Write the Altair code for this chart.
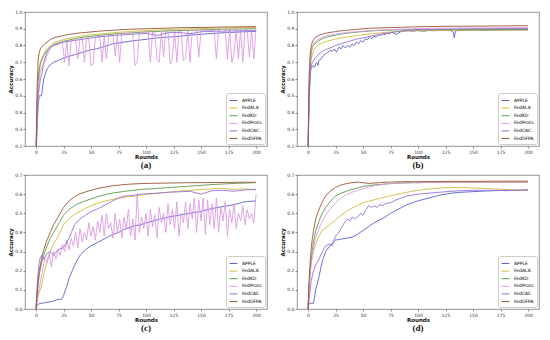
import altair as alt
import pandas as pd

SERIES = ["APPLE", "FedALA", "FedKD", "FedProto", "FedCAC", "FedDFPA"]
COLORS = ["#5a62cf", "#d2b93c", "#5c9a48", "#dd9be3", "#9b72d6", "#9c5536"]
X_TICKS = [0, 25, 50, 75, 100, 125, 150, 175, 200]
Y_TICKS_AB = [0.2, 0.3, 0.4, 0.5, 0.6, 0.7, 0.8, 0.9, 1.0]
Y_TICKS_CD = [0.0, 0.1, 0.2, 0.3, 0.4, 0.5, 0.6, 0.7]

# shared round grid for the smooth curves
R = [0, 1, 2, 3, 4, 5, 7, 10, 13, 16, 20, 25, 30, 35, 40, 45, 50, 55, 60, 65, 70,
     75, 80, 85, 90, 95, 100, 110, 120, 130, 140, 150, 160, 170, 180, 190, 200]
R2 = list(range(0, 201, 2))

# ---------------- panel (a) ----------------
A_APPLE = [0.15, 0.3, 0.45, 0.5, 0.5, 0.5, 0.6, 0.66, 0.685, 0.7, 0.71,
           0.725, 0.735, 0.745, 0.755, 0.765, 0.775, 0.78, 0.79, 0.8, 0.81, 0.815, 0.82,
           0.825, 0.83, 0.833, 0.837, 0.845, 0.85, 0.855, 0.862, 0.867, 0.872, 0.876, 0.879, 0.882, 0.884]
A_ALA = [0.15, 0.45, 0.6, 0.67, 0.7, 0.72, 0.75, 0.78, 0.8, 0.815, 0.825,
         0.835, 0.843, 0.85, 0.855, 0.86, 0.864, 0.867, 0.87, 0.873, 0.876, 0.879, 0.881,
         0.883, 0.885, 0.887, 0.889, 0.892, 0.895, 0.897, 0.899, 0.901, 0.903, 0.905, 0.906, 0.907, 0.908]
A_KD = [0.15, 0.43, 0.58, 0.65, 0.69, 0.71, 0.74, 0.77, 0.79, 0.805, 0.815,
        0.825, 0.833, 0.84, 0.846, 0.851, 0.855, 0.859, 0.862, 0.865, 0.868, 0.871, 0.873,
        0.875, 0.877, 0.879, 0.881, 0.884, 0.887, 0.889, 0.891, 0.893, 0.895, 0.897, 0.898, 0.899, 0.9]
A_PROTO = [0.15, 0.55, 0.65, 0.68, 0.7, 0.74, 0.77, 0.79, 0.8, 0.805,
           0.81, 0.815, 0.82, 0.7, 0.825, 0.68, 0.83, 0.83, 0.835, 0.72,
           0.84, 0.84, 0.7, 0.845, 0.845, 0.68, 0.69, 0.85, 0.85, 0.855,
           0.7, 0.855, 0.72, 0.86, 0.86, 0.86, 0.74, 0.865, 0.7, 0.87,
           0.87, 0.87, 0.87, 0.875, 0.875, 0.68, 0.7, 0.875, 0.875, 0.88,
           0.88, 0.88, 0.7, 0.88, 0.88, 0.72, 0.7, 0.885, 0.73, 0.885,
           0.885, 0.69, 0.72, 0.885, 0.7, 0.885, 0.885, 0.71, 0.72, 0.89,
           0.7, 0.89, 0.89, 0.89, 0.73, 0.89, 0.89, 0.89, 0.89, 0.89,
           0.89, 0.89, 0.72, 0.89, 0.895, 0.895, 0.895, 0.72, 0.895, 0.7,
           0.75, 0.895, 0.72, 0.895, 0.7, 0.895, 0.895, 0.73, 0.9, 0.72,
           0.9]
A_CAC = [0.15, 0.35, 0.5, 0.55, 0.6, 0.62, 0.7, 0.76, 0.79, 0.8, 0.81,
         0.82, 0.825, 0.83, 0.835, 0.84, 0.845, 0.85, 0.853, 0.856, 0.86, 0.862, 0.864,
         0.866, 0.868, 0.87, 0.872, 0.86, 0.876, 0.878, 0.87, 0.882, 0.884, 0.886, 0.887, 0.888, 0.889]
A_DFPA = [0.15, 0.55, 0.72, 0.76, 0.78, 0.79, 0.805, 0.82, 0.835, 0.845, 0.852,
          0.86, 0.866, 0.871, 0.875, 0.878, 0.881, 0.884, 0.887, 0.889, 0.891, 0.893, 0.895,
          0.897, 0.898, 0.899, 0.9, 0.902, 0.904, 0.906, 0.907, 0.908, 0.909, 0.91, 0.911, 0.912, 0.913]

# ---------------- panel (b) ----------------
RB = [0, 1, 2, 3, 4, 5, 6, 7, 8, 9, 10,
      12, 14, 16, 18, 20, 22, 24, 26, 28, 30,
      32, 34, 36, 38, 40, 42, 44, 46, 48, 50,
      52, 54, 56, 58, 60, 62, 64, 66, 68, 70,
      72, 74, 76, 78, 80, 85, 90, 95, 100, 105,
      110, 115, 120, 125, 130, 132, 133, 134, 136, 140,
      150, 160, 170, 180, 190, 200]
B_APPLE = [0.15, 0.45, 0.62, 0.68, 0.67, 0.68, 0.67, 0.69, 0.7, 0.68, 0.71,
           0.72, 0.74, 0.75, 0.76, 0.77, 0.765, 0.78, 0.76, 0.79, 0.78,
           0.8, 0.785, 0.8, 0.79, 0.81, 0.8, 0.82, 0.81, 0.83, 0.82,
           0.84, 0.835, 0.85, 0.84, 0.855, 0.85, 0.865, 0.86, 0.87, 0.865,
           0.875, 0.87, 0.88, 0.875, 0.865, 0.885, 0.89, 0.885, 0.89, 0.885,
           0.89, 0.888, 0.89, 0.89, 0.89, 0.88, 0.845, 0.885, 0.89, 0.89,
           0.892, 0.89, 0.892, 0.893, 0.893, 0.894]
B_ALA = [0.15, 0.5, 0.66, 0.72, 0.75, 0.77, 0.79, 0.805, 0.815, 0.823, 0.83,
         0.838, 0.845, 0.85, 0.855, 0.86, 0.864, 0.868, 0.872, 0.875, 0.878, 0.88, 0.882,
         0.884, 0.886, 0.887, 0.888, 0.889, 0.89, 0.89, 0.891, 0.891, 0.892, 0.892, 0.892, 0.893, 0.893]
B_KD = [0.15, 0.55, 0.7, 0.76, 0.79, 0.8, 0.815, 0.83, 0.84, 0.848, 0.855,
        0.862, 0.868, 0.873, 0.877, 0.88, 0.883, 0.886, 0.888, 0.89, 0.891, 0.892, 0.893,
        0.894, 0.894, 0.895, 0.895, 0.895, 0.895, 0.895, 0.895, 0.896, 0.896, 0.896, 0.896, 0.896, 0.896]
B_PROTO = [0.15, 0.58, 0.72, 0.77, 0.8, 0.81, 0.825, 0.84, 0.85, 0.856, 0.862,
           0.868, 0.873, 0.877, 0.88, 0.883, 0.886, 0.888, 0.89, 0.892, 0.893, 0.895, 0.897,
           0.898, 0.899, 0.9, 0.901, 0.902, 0.903, 0.904, 0.905, 0.905, 0.905, 0.906, 0.906, 0.906, 0.907]
B_CAC = [0.15, 0.5, 0.64, 0.68, 0.7, 0.71, 0.73, 0.75, 0.765, 0.775, 0.785,
         0.8, 0.81, 0.82, 0.83, 0.84, 0.845, 0.853, 0.86, 0.866, 0.872, 0.877, 0.882,
         0.886, 0.889, 0.892, 0.894, 0.896, 0.897, 0.898, 0.899, 0.9, 0.9, 0.901, 0.901, 0.902, 0.902]
B_DFPA = [0.15, 0.6, 0.75, 0.8, 0.82, 0.835, 0.85, 0.86, 0.868, 0.873, 0.878,
          0.883, 0.888, 0.891, 0.894, 0.897, 0.9, 0.902, 0.904, 0.905, 0.906, 0.907, 0.908,
          0.909, 0.91, 0.911, 0.912, 0.913, 0.914, 0.915, 0.915, 0.916, 0.916, 0.917, 0.917, 0.918, 0.918]

# ---------------- panel (c) ----------------
RC = [0, 1, 2, 5, 10, 15, 20, 23, 25, 28,
      30, 33, 36, 40, 45, 50, 55, 60, 65, 70,
      75, 80, 85, 90, 95, 100, 110, 120, 130, 140,
      150, 160, 170, 180, 190, 200]
C_APPLE = [0.0, 0.02, 0.025, 0.03, 0.035, 0.04, 0.05, 0.05, 0.07, 0.12,
           0.16, 0.2, 0.24, 0.28, 0.31, 0.33, 0.345, 0.36, 0.375, 0.39,
           0.4, 0.415, 0.425, 0.435, 0.44, 0.45, 0.465, 0.48, 0.49, 0.5,
           0.51, 0.525, 0.535, 0.545, 0.56, 0.565]
C_ALA = [0.0, 0.04, 0.07, 0.09, 0.1, 0.12, 0.18, 0.25, 0.3, 0.34, 0.38,
         0.44, 0.47, 0.495, 0.51, 0.525, 0.54, 0.55, 0.56, 0.567, 0.573, 0.578, 0.583,
         0.587, 0.59, 0.594, 0.598, 0.604, 0.61, 0.615, 0.62, 0.624, 0.628, 0.63, 0.625, 0.628, 0.622]
C_KD = [0.0, 0.07, 0.13, 0.18, 0.21, 0.24, 0.28, 0.33, 0.37, 0.4, 0.44,
        0.49, 0.52, 0.54, 0.555, 0.565, 0.575, 0.585, 0.593, 0.6, 0.606, 0.61, 0.614,
        0.618, 0.621, 0.624, 0.626, 0.63, 0.634, 0.638, 0.642, 0.646, 0.65, 0.653, 0.656, 0.658, 0.66]
C_PROTO = [0.0, 0.08, 0.14, 0.2, 0.27, 0.24, 0.29, 0.22, 0.3, 0.26,
           0.31, 0.28, 0.34, 0.3, 0.36, 0.31, 0.37, 0.33, 0.4, 0.32,
           0.42, 0.35, 0.4, 0.36, 0.45, 0.38, 0.43, 0.36, 0.46, 0.4,
           0.49, 0.38, 0.5, 0.42, 0.45, 0.37, 0.5, 0.4, 0.47, 0.37,
           0.48, 0.42, 0.52, 0.38, 0.47, 0.36, 0.6, 0.4, 0.48, 0.42,
           0.5, 0.38, 0.52, 0.43, 0.49, 0.37, 0.53, 0.45, 0.5, 0.4,
           0.55, 0.44, 0.52, 0.42, 0.56, 0.38, 0.5, 0.45, 0.56, 0.42,
           0.55, 0.47, 0.58, 0.4, 0.57, 0.46, 0.58, 0.39, 0.57, 0.44,
           0.55, 0.42, 0.58, 0.4, 0.53, 0.46, 0.56, 0.38, 0.52, 0.45,
           0.55, 0.42, 0.5, 0.46, 0.54, 0.44, 0.52, 0.47, 0.5, 0.45,
           0.6]
C_CAC = [0.0, 0.12, 0.2, 0.25, 0.27, 0.28, 0.26, 0.29, 0.3, 0.28, 0.31,
         0.32, 0.37, 0.44, 0.47, 0.49, 0.51, 0.52, 0.535, 0.55, 0.565, 0.58, 0.59,
         0.592, 0.595, 0.6, 0.602, 0.605, 0.61, 0.612, 0.615, 0.6, 0.618, 0.62, 0.615, 0.622, 0.625]
C_DFPA = [0.0, 0.08, 0.15, 0.2, 0.23, 0.26, 0.31, 0.36, 0.4, 0.44, 0.48,
          0.53, 0.565, 0.587, 0.602, 0.612, 0.62, 0.628, 0.634, 0.639, 0.644, 0.647, 0.65,
          0.652, 0.654, 0.655, 0.656, 0.657, 0.658, 0.659, 0.66, 0.66, 0.661, 0.661, 0.662, 0.662, 0.662]

# ---------------- panel (d) ----------------
RE = [0, 1, 3, 5, 7, 10, 13, 16, 20, 23,
      25, 30, 35, 40, 45, 50, 55, 60, 65, 70,
      75, 80, 85, 90, 95, 100, 110, 120, 130, 140,
      150, 160, 170, 180, 190, 200]
D_APPLE = [0.0, 0.03, 0.03, 0.03, 0.1, 0.17, 0.25, 0.3, 0.33, 0.35,
           0.36, 0.365, 0.37, 0.375, 0.39, 0.41, 0.43, 0.45, 0.465, 0.48,
           0.5, 0.515, 0.53, 0.545, 0.555, 0.565, 0.58, 0.595, 0.605, 0.61,
           0.613, 0.616, 0.618, 0.62, 0.62, 0.622]
D_ALA = [0.0, 0.12, 0.2, 0.25, 0.28, 0.3, 0.34, 0.38, 0.41, 0.425, 0.44,
         0.465, 0.49, 0.51, 0.527, 0.542, 0.555, 0.563, 0.57, 0.578, 0.585, 0.592, 0.598,
         0.604, 0.61, 0.615, 0.62, 0.627, 0.632, 0.635, 0.634, 0.632, 0.63, 0.627, 0.624, 0.622, 0.62]
D_KD = [0.0, 0.12, 0.2, 0.26, 0.31, 0.35, 0.41, 0.46, 0.5, 0.53, 0.56,
        0.59, 0.605, 0.615, 0.625, 0.632, 0.64, 0.645, 0.648, 0.65, 0.653, 0.655, 0.657,
        0.658, 0.659, 0.66, 0.66, 0.661, 0.661, 0.662, 0.662, 0.662, 0.662, 0.662, 0.663, 0.663, 0.663]
D_PROTO = [0.0, 0.1, 0.18, 0.24, 0.28, 0.32, 0.37, 0.42, 0.46, 0.49, 0.52,
           0.555, 0.58, 0.597, 0.61, 0.62, 0.628, 0.636, 0.643, 0.648, 0.652, 0.655, 0.657,
           0.658, 0.659, 0.66, 0.66, 0.661, 0.661, 0.661, 0.662, 0.662, 0.662, 0.662, 0.662, 0.662, 0.662]
RD = [0, 1, 2, 3, 5, 7, 10, 13, 16, 20,
      22, 25, 28, 30, 33, 36, 38, 40, 43, 45,
      48, 50, 53, 55, 58, 60, 63, 65, 68, 70,
      75, 80, 85, 90, 95, 100, 110, 120, 130, 140,
      150, 160, 170, 180, 190, 200]
D_CAC = [0.0, 0.05, 0.1, 0.15, 0.2, 0.23, 0.26, 0.3, 0.33, 0.34,
         0.33, 0.38, 0.4, 0.42, 0.45, 0.47, 0.46, 0.48, 0.47, 0.48,
         0.5, 0.49, 0.52, 0.54, 0.53, 0.54, 0.53, 0.545, 0.54, 0.55,
         0.555, 0.57, 0.58, 0.59, 0.595, 0.6, 0.605, 0.61, 0.615, 0.618,
         0.62, 0.62, 0.62, 0.618, 0.62, 0.622]
D_DFPA = [0.0, 0.15, 0.25, 0.32, 0.37, 0.41, 0.47, 0.52, 0.56, 0.59, 0.615,
          0.635, 0.648, 0.655, 0.66, 0.663, 0.66, 0.656, 0.658, 0.66, 0.662, 0.663, 0.664,
          0.665, 0.665, 0.665, 0.665, 0.666, 0.666, 0.667, 0.667, 0.667, 0.667, 0.668, 0.668, 0.668, 0.668]


def frame(entries):
    rows = []
    for name, xs, ys in entries:
        for x, y in zip(xs, ys):
            rows.append({"series": name, "round": x, "acc": y})
    return pd.DataFrame(rows)


def panel(df, ydom, yticks, caption):
    return alt.Chart(df).mark_line(strokeWidth=0.9, clip=True).encode(
        x=alt.X("round:Q",
                scale=alt.Scale(domain=[-10, 210], nice=False, zero=False),
                axis=alt.Axis(values=X_TICKS, title="Rounds", format="d")),
        y=alt.Y("acc:Q",
                scale=alt.Scale(domain=ydom, nice=False, zero=False),
                axis=alt.Axis(values=yticks, title="Accuracy", format=".1f")),
        color=alt.Color("series:N",
                        scale=alt.Scale(domain=SERIES, range=COLORS),
                        sort=SERIES,
                        legend=alt.Legend(title=None, orient="bottom-right",
                                          symbolType="stroke", symbolStrokeWidth=1,
                                          symbolSize=60, labelFontSize=4.5,
                                          labelFont="DejaVu Sans", rowPadding=0.6,
                                          padding=3, offset=2, cornerRadius=2,
                                          strokeColor="#cccccc", fillColor="white",
                                          labelLimit=60)),
    ).properties(
        width=242, height=134,
        title=alt.TitleParams(caption, orient="bottom", font="Liberation Serif",
                              fontSize=9, fontWeight="bold", offset=1,
                              anchor="middle", color="#111111"),
    )


df_a = frame([("APPLE", R, A_APPLE), ("FedALA", R, A_ALA), ("FedKD", R, A_KD),
              ("FedProto", R2, A_PROTO), ("FedCAC", R, A_CAC), ("FedDFPA", R, A_DFPA)])
df_b = frame([("APPLE", RB, B_APPLE), ("FedALA", R, B_ALA), ("FedKD", R, B_KD),
              ("FedProto", R, B_PROTO), ("FedCAC", R, B_CAC), ("FedDFPA", R, B_DFPA)])
df_c = frame([("APPLE", RC, C_APPLE), ("FedALA", R, C_ALA), ("FedKD", R, C_KD),
              ("FedProto", R2, C_PROTO), ("FedCAC", R, C_CAC), ("FedDFPA", R, C_DFPA)])
df_d = frame([("APPLE", RE, D_APPLE), ("FedALA", R, D_ALA), ("FedKD", R, D_KD),
              ("FedProto", R, D_PROTO), ("FedCAC", RD, D_CAC), ("FedDFPA", R, D_DFPA)])

pa = panel(df_a, [0.2, 1.0], Y_TICKS_AB, "(a)")
pb = panel(df_b, [0.2, 1.0], Y_TICKS_AB, "(b)")
pc = panel(df_c, [0.0, 0.7], Y_TICKS_CD, "(c)")
pd_ = panel(df_d, [0.0, 0.7], Y_TICKS_CD, "(d)")

top = alt.hconcat(pa, pb, spacing=12).resolve_scale(color="independent", x="independent", y="independent").resolve_legend(color="independent")
bottom = alt.hconcat(pc, pd_, spacing=12).resolve_scale(color="independent", x="independent", y="independent").resolve_legend(color="independent")

chart = alt.vconcat(top, bottom, spacing=0).resolve_scale(
    color="independent", x="independent", y="independent"
).resolve_legend(color="independent").properties(
    padding=0, background="white"
).configure_view(
    stroke="#777777", strokeWidth=0.8
).configure_axis(
    domain=False, grid=False, tickSize=2, tickColor="#444444", tickWidth=0.6,
    labelFontSize=4.5, labelFont="DejaVu Sans", labelColor="#333333", labelPadding=1,
    titleFontSize=5.5, titleFont="DejaVu Sans", titleFontWeight="bold",
    titleColor="#111111", titlePadding=1
)

chart.save("out.html", embed_options={"renderer": "svg", "actions": False})
